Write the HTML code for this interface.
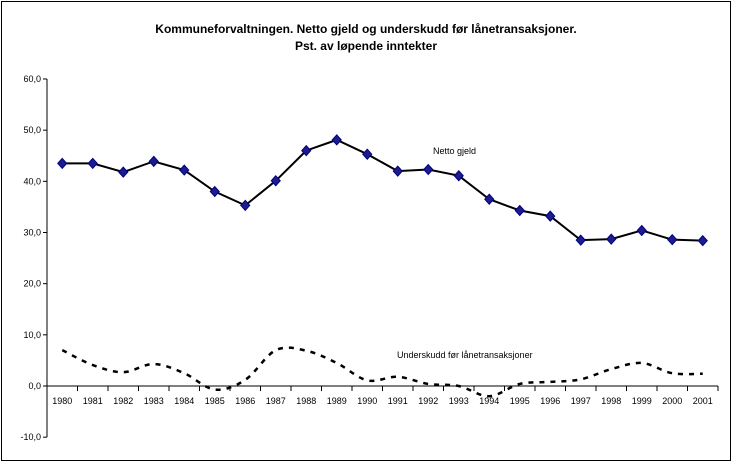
<!DOCTYPE html>
<html><head><meta charset="utf-8"><style>
body{margin:0;background:#fff;font-family:"Liberation Sans",Arial,sans-serif}
svg{display:block}
</style></head><body>
<svg id="c" width="733" height="463">
<rect x="1.5" y="1.5" width="729" height="459" fill="#fff" stroke="#000"/>
<text x="366" y="33" text-anchor="middle" font-size="12" font-weight="bold">Kommuneforvaltningen. Netto gjeld og underskudd før lånetransaksjoner.</text>
<text x="366" y="50" text-anchor="middle" font-size="12" font-weight="bold">Pst. av løpende inntekter</text>
<g id="ax"></g>
<text x="433" y="154" font-size="9">Netto gjeld</text>
<text x="397" y="358" font-size="9">Underskudd før lånetransaksjoner</text>
</svg>
<script>
const years=["1980","1981","1982","1983","1984","1985","1986","1987","1988","1989","1990","1991","1992","1993","1994","1995","1996","1997","1998","1999","2000","2001"];
const nettoGjeld=[43.5,43.5,41.8,43.9,42.2,38.0,35.3,40.1,46.0,48.1,45.3,42.0,42.3,41.1,36.5,34.3,33.2,28.5,28.7,30.4,28.6,28.4];
const underskudd=[7.0,4.1,2.7,4.3,2.5,-0.7,1.2,7.0,6.9,4.5,1.1,1.8,0.4,0.0,-2.0,0.4,0.8,1.3,3.3,4.5,2.5,2.4];
const yTicks=["60,0","50,0","40,0","30,0","20,0","10,0","0,0","-10,0"];
const yVals=[60,50,40,30,20,10,0,-10];
const NS="http://www.w3.org/2000/svg";
const g=document.getElementById('ax');
const x0=47,x1=718,step=(x1-x0)/years.length;
const X=i=>x0+step*(i+0.5);
const Y=v=>386-v*5.117;
function mk(t,a){const e=document.createElementNS(NS,t);for(const k in a)e.setAttribute(k,a[k]);g.appendChild(e);return e;}
let e=mk('line',{x1:x0,y1:Y(60),x2:x0,y2:Y(-10),stroke:'#000'});


yVals.forEach((v,i)=>{
 let t=mk('line',{x1:x0-4,y1:Y(v),x2:x0,y2:Y(v),stroke:'#000'});
 
 
 let l=mk('text',{x:x0-6,y:Y(v)+3,'text-anchor':'end','font-size':'9'});l.textContent=yTicks[i];
 
 
});
e=mk('line',{x1:x0,y1:Y(0),x2:x1,y2:Y(0),stroke:'#000'});


years.forEach((yr,i)=>{
 let t=mk('line',{x1:x0+step*(i+1),y1:Y(0),x2:x0+step*(i+1),y2:Y(0)+5,stroke:'#000'});
 
 
 let l=mk('text',{x:X(i),y:Y(0)+18,'text-anchor':'middle','font-size':'9'});l.textContent=yr;
 
 
});
// underskudd smooth dashed
const P=underskudd.map((v,i)=>[X(i),Y(v)]);
let d='M'+P[0][0]+','+P[0][1];
for(let i=0;i<P.length-1;i++){const p0=P[Math.max(i-1,0)],p1=P[i],p2=P[i+1],p3=P[Math.min(i+2,P.length-1)];
 d+=` C${p1[0]+(p2[0]-p0[0])/6},${p1[1]+(p2[1]-p0[1])/6} ${p2[0]-(p3[0]-p1[0])/6},${p2[1]-(p3[1]-p1[1])/6} ${p2[0]},${p2[1]}`;}
e=mk('path',{d:d,fill:'none',stroke:'#000','stroke-width':2.5,'stroke-dasharray':'5,6'});


e=mk('polyline',{points:nettoGjeld.map((v,i)=>X(i)+','+Y(v)).join(' '),fill:'none',stroke:'#000','stroke-width':2});


nettoGjeld.forEach((v,i)=>{
 const cx=X(i),cy=Y(v);
 let m=mk('polygon',{points:`${cx},${cy-5} ${cx+4.5},${cy} ${cx},${cy+5} ${cx-4.5},${cy}`,fill:'#1c1c8c',stroke:'#000080'});
 
 
});
</script>
</body></html>
